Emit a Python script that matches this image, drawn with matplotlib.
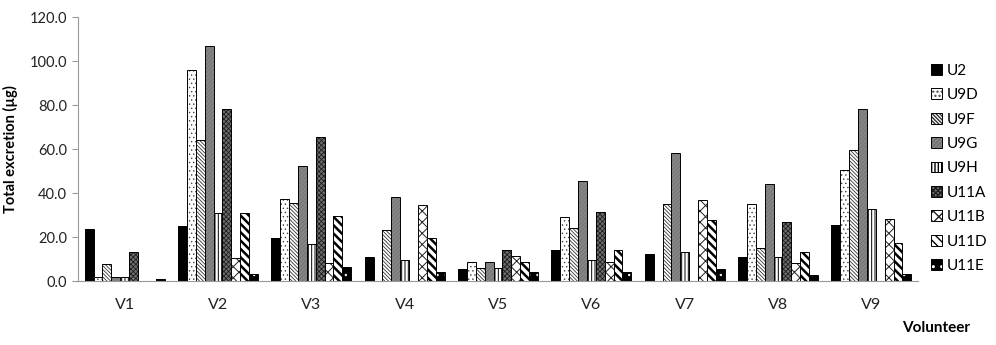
import numpy as np
import matplotlib.pyplot as plt
from matplotlib.legend_handler import HandlerTuple

plt.rcParams['font.family'] = ['Lato', 'DejaVu Sans']

volunteers = ['V1', 'V2', 'V3', 'V4', 'V5', 'V6', 'V7', 'V8', 'V9']
series = ['U2', 'U9D', 'U9F', 'U9G', 'U9H', 'U11A', 'U11B', 'U11D', 'U11E']

u2   = [23.5, 25.1, 19.4, 10.8, 5.3, 13.9, 12.4, 11.1, 25.6]
u9d  = [2.0, 95.8, 37.4, 0.0, 8.8, 28.9, 0.0, 35.0, 50.6]
u9f  = [7.9, 64.1, 35.3, 23.0, 5.8, 23.9, 35.0, 15.0, 59.7]
u9g  = [2.0, 107.0, 52.3, 38.3, 8.8, 45.6, 58.0, 44.0, 78.3]
u9h  = [2.0, 30.8, 16.7, 9.4, 5.8, 9.7, 13.2, 11.1, 32.9]
u11a = [13.3, 78.3, 65.3, 0.0, 13.9, 31.5, 0.0, 27.0, 0.0]
u11b = [0.0, 10.3, 8.3, 34.4, 11.5, 8.5, 36.8, 8.3, 28.2]
u11d = [0.0, 30.8, 29.4, 19.7, 8.8, 14.1, 27.7, 13.3, 17.1]
u11e = [1.0, 3.0, 6.5, 4.2, 3.9, 3.9, 5.3, 2.7, 3.2]

values = [u2, u9d, u9f, u9g, u9h, u11a, u11b, u11d, u11e]

# face colour, hatch, hatch colour, hatch line width
styles = [
    ('black', None, 'black', 0.5),
    ('white', '....', '#444444', 0.5),
    ('white', '\\' * 9, '#333333', 0.6),
    ('#858585', '/' * 8, '#707070', 0.5),
    ('white', '|' * 5, 'black', 0.7),
    ('#6e6e6e', 'x' * 7, '#1e1e1e', 0.6),
    ('white', 'x' * 3, '#222222', 0.7),
    ('white', '\\' * 4, 'black', 1.8),
    ('black', '..', 'white', 0.5),
]

fig = plt.figure(figsize=(9.96, 3.45), dpi=100)
ax = fig.add_axes([0.0783, 0.1855, 0.8434, 0.7652])

x = np.arange(len(volunteers))
n = len(series)
w = 0.095
handles = []
for i, (name, vals) in enumerate(zip(series, values)):
    face, hatch, hc, hlw = styles[i]
    pos = x - w * (n - 1) / 2 + i * w
    with plt.rc_context({'hatch.linewidth': hlw}):
        b = ax.bar(pos, vals, w, color=face, hatch=hatch, edgecolor=hc, linewidth=0)
        ol = ax.bar(pos, vals, w, fill=False, edgecolor='black', linewidth=0.7)
    handles.append((b, ol))

ax.set_xlim(-0.5, len(volunteers) - 0.5)
ax.set_ylim(0, 120)
ax.set_yticks(np.arange(0, 121, 20))
ax.set_yticklabels([f'{v:.1f}' for v in np.arange(0, 121, 20)], fontsize=10.5, color='#222222')
ax.set_xticks(x)
ax.set_xticklabels(volunteers, fontsize=11.5, color='#222222')
ax.tick_params(axis='x', length=0, pad=12)
ax.tick_params(axis='y', length=4, color='#999999', pad=4)
for s in ['top', 'right']:
    ax.spines[s].set_visible(False)
for s in ['left', 'bottom']:
    ax.spines[s].set_color('#999999')

ax.set_ylabel('Total excretion (µg)', fontsize=10.5, fontweight='bold', labelpad=8)
fig.text(0.94, 0.03, 'Volunteer', fontsize=11, fontweight='bold', ha='center', va='bottom')

fig.legend(handles=handles, labels=series, loc='center left', bbox_to_anchor=(0.935, 0.512),
           frameon=False, fontsize=11, handlelength=0.7, handleheight=0.7,
           handletextpad=0.3, labelspacing=0.68, borderaxespad=0, borderpad=0,
           handler_map={tuple: HandlerTuple(ndivide=1, pad=0)})

fig.savefig('out.png', dpi=100)
